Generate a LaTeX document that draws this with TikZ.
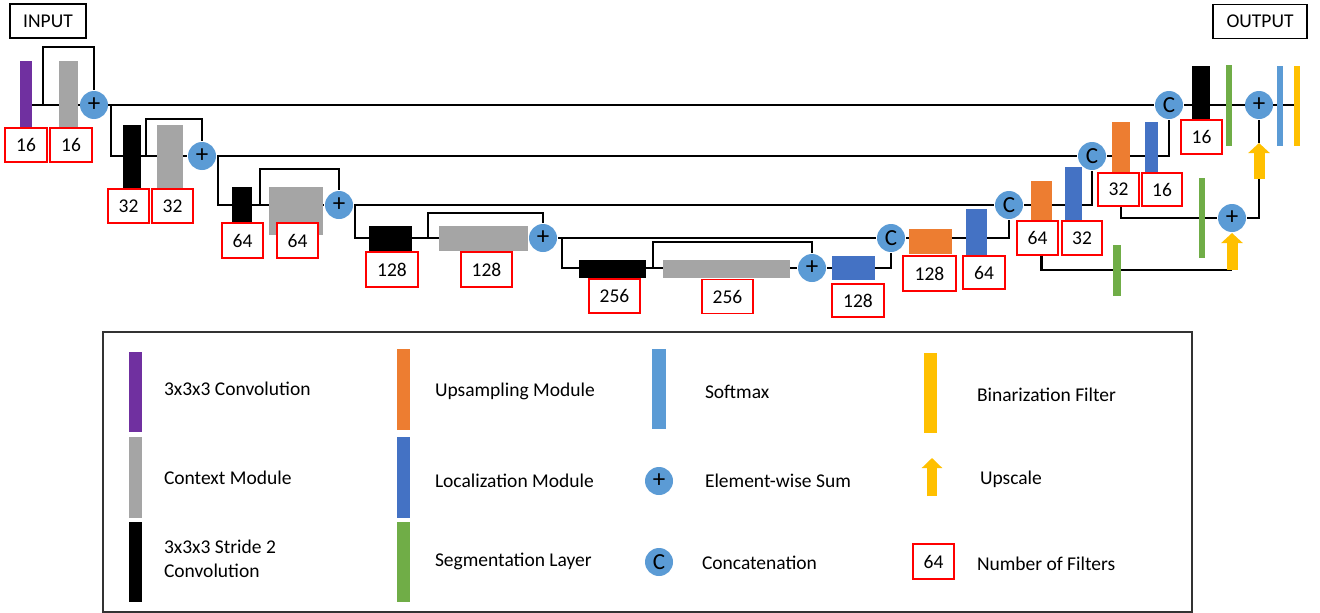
\documentclass[tikz,border=0pt]{standalone}
\usepackage{fontspec}
\setmainfont{Carlito}
\usetikzlibrary{arrows.meta,backgrounds}
\definecolor{cpurple}{HTML}{7030A0}
\definecolor{cgray}{HTML}{A5A5A5}
\definecolor{corange}{HTML}{ED7D31}
\definecolor{cloc}{HTML}{4472C4}
\definecolor{cgreen}{HTML}{70AD47}
\definecolor{csoft}{HTML}{5B9BD5}
\definecolor{cyellow}{HTML}{FFC000}
\newcommand{\dfont}{\fontsize{19.5}{24}\selectfont}

\begin{document}
\begin{tikzpicture}[x=1pt,y=-1pt,line width=2pt,
  every node/.style={font=\dfont},
  blk/.style 2 args={inner sep=0pt,outer sep=0pt,minimum width=#1,minimum height=#2},
  nbox/.style={draw=red,fill=white,line width=1.3pt,inner sep=0pt,minimum width=#1,minimum height=34pt},
  nbox/.default=42pt,
  opnode/.style={circle,fill=csoft,inner sep=0pt,minimum size=28pt,font=\fontsize{25}{26}\selectfont},
  cnode/.style={opnode,font=\fontsize{23}{24}\selectfont},
  iobox/.style={draw,line width=1.3pt,inner sep=0pt,minimum height=34pt},
  wire/.style={draw=black,line width=2.3pt},
  upscale/.style={draw=cyellow,line width=11pt,-{Triangle[width=21pt,length=10pt]}},
  legtext/.style={anchor=west,inner sep=0pt,text height=12.5pt,text depth=0pt}]
    \useasboundingbox (0,0) rectangle (1320,613);

    \node[iobox,minimum width=76pt] (in) at (48,21) {INPUT};
    \node[iobox,minimum width=94pt] (out) at (1260,21.5) {OUTPUT};

    % contracting path
    \node[blk={12pt}{67pt},fill=cpurple] (conv1) at (26,94.5) {};
    \node[blk={19pt}{67pt},fill=cgray] (ctx1) at (68.5,94.5) {};
    \node[opnode] (sum1) at (94,105) {+};
    \node[blk={18pt}{63pt},fill=black] (down1) at (132,156.5) {};
    \node[blk={26pt}{63pt},fill=cgray] (ctx2) at (170,156.5) {};
    \node[opnode] (sum2) at (202,156) {+};
    \node[blk={20pt}{36pt},fill=black] (down2) at (242,205) {};
    \node[blk={54pt}{48pt},fill=cgray] (ctx3) at (296,211) {};
    \node[opnode] (sum3) at (339,205) {+};
    \node[blk={43pt}{25pt},fill=black] (down3) at (390.5,238.5) {};
    \node[blk={89pt}{25pt},fill=cgray] (ctx4) at (483.5,238.5) {};
    \node[opnode] (sum4) at (543,238) {+};
    \node[blk={67pt}{18pt},fill=black] (down4) at (612.5,269) {};
    \node[blk={127pt}{18pt},fill=cgray] (ctx5) at (726.5,269) {};
    \node[opnode] (sum5) at (812,268) {+};
    \node[blk={43pt}{24pt},fill=cloc] (loc5) at (853.5,268) {};

    % expanding path
    \node[cnode] (cat4) at (891,238) {C};
    \node[blk={43pt}{25pt},fill=corange] (up4) at (930.5,241.5) {};
    \node[blk={21pt}{46pt},fill=cloc] (loc4) at (976.5,232) {};
    \node[cnode] (cat3) at (1009,205) {C};
    \node[blk={21pt}{40pt},fill=corange] (up3) at (1041.5,201) {};
    \node[blk={17pt}{54pt},fill=cloc] (loc3) at (1073.5,194) {};
    \node[cnode] (cat2) at (1092,156) {C};
    \node[blk={18pt}{51pt},fill=corange] (up2) at (1121,147.5) {};
    \node[blk={13pt}{51pt},fill=cloc] (loc2) at (1151.5,147.5) {};
    \node[cnode] (cat1) at (1169,105) {C};
    \node[blk={18pt}{53pt},fill=black] (conv2) at (1201,92.5) {};
    \node[blk={6pt}{81pt},fill=cgreen] (seg1) at (1228.5,105) {};
    \node[opnode] (sumo) at (1259,105) {+};
    \node[blk={6pt}{80pt},fill=csoft] (soft) at (1280,106) {};
    \node[blk={6pt}{80pt},fill=cyellow] (bin) at (1296.5,106) {};
    \node[blk={6pt}{80pt},fill=cgreen] (seg2) at (1202,218) {};
    \node[opnode] (summ) at (1232,218) {+};
    \node[blk={8pt}{51pt},fill=cgreen] (seg3) at (1117,270) {};

    % filter numbers
    \node[nbox] (n-conv1) at (26,145) {16};
    \node[nbox] (n-ctx1) at (71,145) {16};
    \node[nbox=41pt] (n-down1) at (128.5,206) {32};
    \node[nbox=41pt] (n-ctx2) at (172.5,206) {32};
    \node[nbox=41pt,minimum height=35pt] (n-down2) at (242.5,240.5) {64};
    \node[nbox=41pt,minimum height=35pt] (n-ctx3) at (297.5,240.5) {64};
    \node[nbox=52pt,minimum height=35pt] (n-down3) at (392,269.5) {128};
    \node[nbox=51pt,minimum height=35pt] (n-ctx4) at (486.5,269.5) {128};
    \node[nbox=51pt] (n-down4) at (614.5,296) {256};
    \node[nbox=51pt] (n-ctx5) at (727.5,296.5) {256};
    \node[nbox=52pt,minimum height=33pt] (n-loc5) at (858,300.5) {128};
    \node[nbox=53pt,minimum height=35pt] (n-up4) at (929.5,273.5) {128};
    \node[nbox,minimum height=33pt] (n-loc4) at (984,272.5) {64};
    \node[nbox=41pt] (n-up3) at (1037.5,238) {64};
    \node[nbox=40pt] (n-loc3) at (1082,238) {32};
    \node[nbox=41pt,minimum height=33pt] (n-up2) at (1118.5,189.5) {32};
    \node[nbox=40pt,minimum height=33pt] (n-loc2) at (1162,189.5) {16};
    \node[nbox=41pt] (n-conv2) at (1201.5,137) {16};

    \coordinate (j1) at (43,105);
    \coordinate (b1) at (111,105);
    \coordinate (j2) at (146,156);
    \coordinate (b2) at (218,156);
    \coordinate (j3) at (260,205);
    \coordinate (b3) at (355,205);
    \coordinate (j4) at (428,238);
    \coordinate (b4) at (562,238);
    \coordinate (j5) at (653,268);
    \coordinate (upA0) at (1259,179);
    \coordinate (upA1) at (1259,143);
    \coordinate (upB0) at (1232,270);

    \begin{scope}[on background layer]
        \draw[wire] (conv1 |- sum1) -- (cat1) -- (bin |- cat1);
        \draw[wire] (j1) |- (94,47) -- (sum1);
        \draw[wire] (b1) |- (sum2) -- (cat2) -| (cat1);
        \draw[wire] (j2) |- (202,119) -- (sum2);
        \draw[wire] (b2) |- (sum3) -- (cat3) -| (cat2);
        \draw[wire] (j3) |- (339,169) -- (sum3);
        \draw[wire] (b3) |- (sum4) -- (cat4) -| (cat3);
        \draw[wire] (j4) |- (543,213) -- (sum4);
        \draw[wire] (b4) |- (sum5) -| (cat4);
        \draw[wire] (j5) |- (812,242) -- (sum5);
        \draw[wire] (up2) |- (seg2) -- (summ);
        \draw[wire] (up3) |- (seg3) -- (upB0);
        \draw[wire] (summ) -| (upA0);
        \draw[wire] (upA1) -- (sumo);
    \end{scope}
    \draw[upscale] (upA0) -- (upA1);
    \draw[upscale] (upB0) -- (summ);

    % legend
    \draw[line width=1.6pt,black!80] (103,332) rectangle (1192,612);
    \node[blk={13pt}{80pt},fill=cpurple] (k-conv) at (135.5,392) {};
    \node[blk={13pt}{81pt},fill=cgray] (k-ctx) at (135.5,477.5) {};
    \node[blk={13pt}{80pt},fill=black] (k-down) at (135.5,562) {};
    \node[blk={13pt}{81pt},fill=corange] (k-up) at (403.5,389.5) {};
    \node[blk={13pt}{81pt},fill=cloc] (k-loc) at (403.5,477.5) {};
    \node[blk={13pt}{80pt},fill=cgreen] (k-seg) at (403.5,562) {};
    \node[blk={14pt}{80pt},fill=csoft] (k-soft) at (659,389) {};
    \node[opnode] (k-sum) at (659,481) {+};
    \node[cnode] (k-cat) at (659,562) {C};
    \node[blk={13pt}{80pt},fill=cyellow] (k-bin) at (930.5,393) {};
    \coordinate (k-up0) at (932,496);
    \coordinate (k-up1) at (932,458);
    \draw[upscale,line width=10pt,-{Triangle[width=20pt,length=10pt]}] (k-up0) -- (k-up1);
    \node[nbox=41pt,minimum height=35pt] (k-num) at (933.5,561.5) {64};

    \node[legtext] (t-conv) at (163,389) {3x3x3 Convolution};
    \node[legtext] (t-ctx) at (163,478) {Context Module};
    \node[anchor=west,inner sep=0pt,align=left] (t-down) at (163,559) {3x3x3 Stride 2\\Convolution};
    \node[legtext] (t-up) at (434,390) {Upsampling Module};
    \node[legtext] (t-loc) at (434,481) {Localization Module};
    \node[legtext] (t-seg) at (434,560) {Segmentation Layer};
    \node[legtext] (t-soft) at (704,392) {Softmax};
    \node[legtext] (t-sum) at (704,481) {Element-wise Sum};
    \node[legtext] (t-cat) at (701,563) {Concatenation};
    \node[legtext] (t-bin) at (976,395) {Binarization Filter};
    \node[legtext] (t-ups) at (979,478) {Upscale};
    \node[legtext] (t-num) at (976,564) {Number of Filters};
\end{tikzpicture}
\end{document}
